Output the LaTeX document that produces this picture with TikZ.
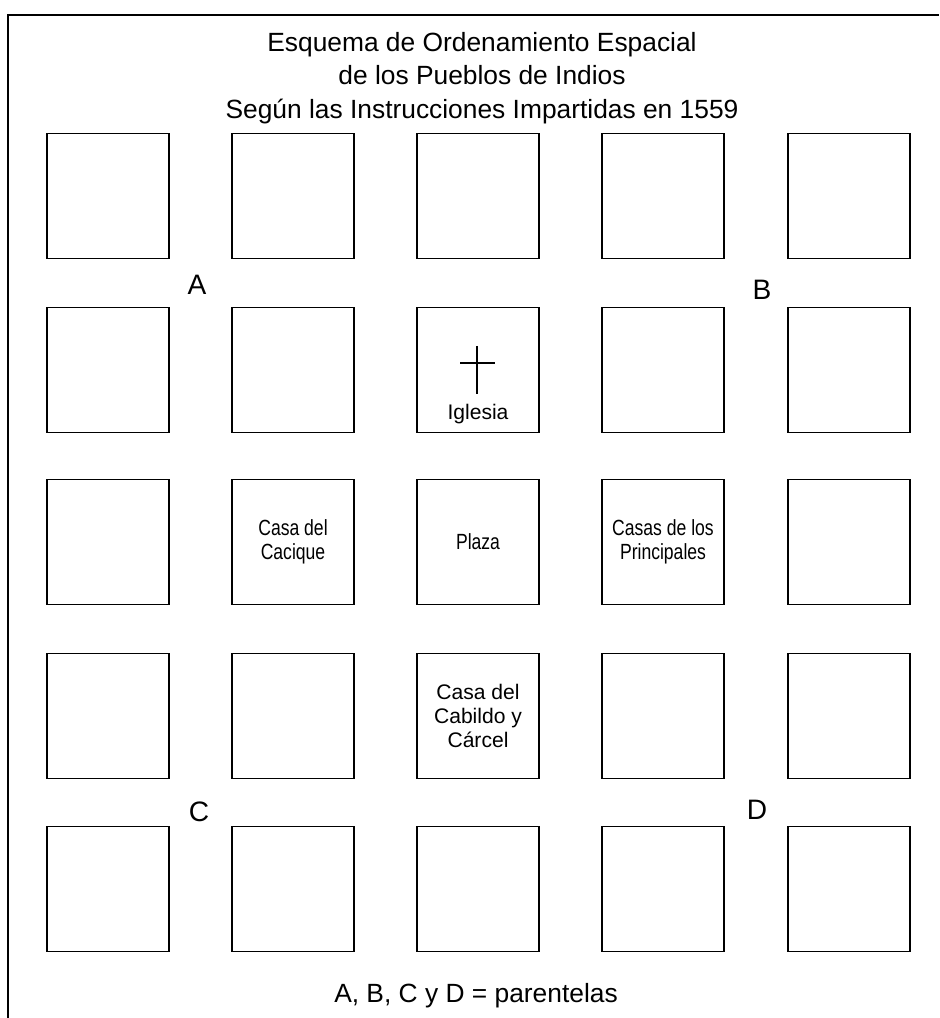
\documentclass[tikz,border=0pt]{standalone}
\usepackage{fontspec}
\setmainfont{Liberation Sans}
\newfontfamily\estrecha[FakeStretch=0.8]{Liberation Sans}
\usepackage{tikz}
\usetikzlibrary{calc}
\usetikzlibrary{positioning}

\begin{document}
\begin{tikzpicture}[
    solar/.style={draw=black, line width=1pt, minimum width=2.44cm, minimum height=2.5cm, inner sep=1pt, align=center, font=\fontsize{11.5}{13}\selectfont},
    solarE/.style={solar, font=\estrecha\fontsize{12.5}{14}\selectfont},
    letra/.style={font=\fontsize{16}{19}\selectfont},
    titulo/.style={align=center, font=\fontsize{15}{19}\selectfont}
]
\useasboundingbox (0,0) rectangle (18.78,-20.36);

% ── Marco ─────────────────────────────────────────────────────
\draw[line width=1pt] (0.16,-20.36) -- (0.16,-0.30) -- (18.78,-0.30);

% ── Título ────────────────────────────────────────────────────
\node[titulo] (tit) at (9.64,-1.56) {Esquema de Ordenamiento Espacial\\de los Pueblos de Indios\\Según las Instrucciones Impartidas en 1559};

% ── Fila 1 ────────────────────────────────────────────────────
\node[solar] (s11) at (2.16,-3.92) {};
\node[solar] (s12) at (5.86,-3.92) {};
\node[solar] (s13) at (9.56,-3.92) {};
\node[solar] (s14) at (13.26,-3.92) {};
\node[solar] (s15) at (16.98,-3.92) {};

% ── Fila 2 (Iglesia) ──────────────────────────────────────────
\node[solar] (s21) at (2.16,-7.40) {};
\node[solar] (s22) at (5.86,-7.40) {};
\node[solar] (s23) at (9.56,-7.40) {};
\node[solar] (s24) at (13.26,-7.40) {};
\node[solar] (s25) at (16.98,-7.40) {};

\draw[line width=1.6pt] ($(s23.center)+(-0.02,0.48)$) -- ($(s23.center)+(-0.02,-0.48)$);
\draw[line width=1.6pt] ($(s23.center)+(-0.36,0.14)$) -- ($(s23.center)+(0.34,0.14)$);
\node[font=\fontsize{12}{14}\selectfont, above=0.06cm] (igl) at (s23.south) {Iglesia};

% ── Fila 3 (Cacique, Plaza, Principales) ──────────────────────
\node[solar] (s31) at (2.16,-10.84) {};
\node[solarE] (s32) at (5.86,-10.84) {Casa del\\Cacique};
\node[solarE] (s33) at (9.56,-10.84) {Plaza};
\node[solarE] (s34) at (13.26,-10.84) {Casas de los\\Principales};
\node[solar] (s35) at (16.98,-10.84) {};

% ── Fila 4 (Cabildo) ──────────────────────────────────────────
\node[solar] (s41) at (2.16,-14.32) {};
\node[solar] (s42) at (5.86,-14.32) {};
\node[solar, font=\fontsize{12}{13.5}\selectfont] (s43) at (9.56,-14.32) {Casa del\\Cabildo y\\Cárcel};
\node[solar] (s44) at (13.26,-14.32) {};
\node[solar] (s45) at (16.98,-14.32) {};

% ── Fila 5 ────────────────────────────────────────────────────
\node[solar] (s51) at (2.16,-17.78) {};
\node[solar] (s52) at (5.86,-17.78) {};
\node[solar] (s53) at (9.56,-17.78) {};
\node[solar] (s54) at (13.26,-17.78) {};
\node[solar] (s55) at (16.98,-17.78) {};

% ── Parentelas ────────────────────────────────────────────────
\node[letra] (pA) at (3.94,-5.70) {A};
\node[letra] (pB) at (15.24,-5.80) {B};
\node[letra] (pC) at (3.98,-16.24) {C};
\node[letra] (pD) at (15.14,-16.20) {D};

\node[letra, font=\fontsize{15}{18}\selectfont] (ley) at (9.52,-19.92) {A, B, C y D = parentelas};

\end{tikzpicture}
\end{document}
